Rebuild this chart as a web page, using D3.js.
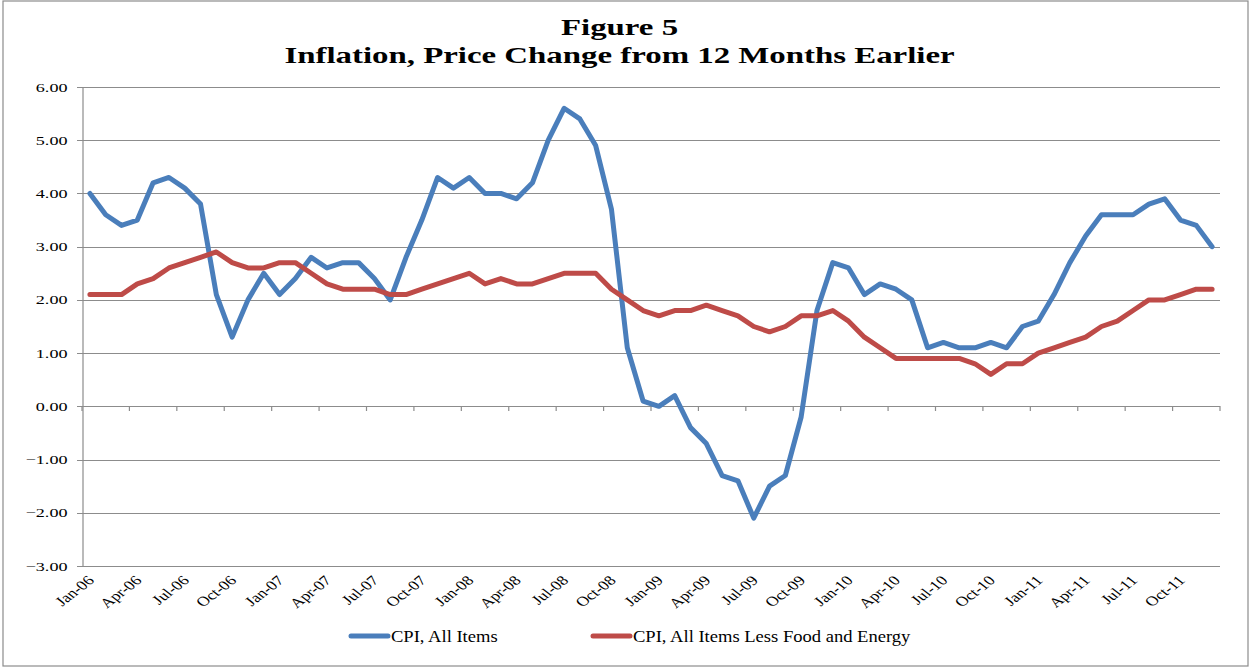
<!DOCTYPE html>
<html>
<head>
<meta charset="utf-8">
<script src="https://cdn.jsdelivr.net/npm/d3@7"></script>
<style>
  html, body { margin: 0; padding: 0; background: #fff; }
  svg { display: block; }
  text { font-family: "Liberation Serif", "Times New Roman", serif; fill: #000; }
</style>
</head>
<body>
<svg id="chart" width="1250" height="668"></svg>
<script>
const titleLines = ["Figure 5", "Inflation, Price Change from 12 Months Earlier"];
const months = ["Jan","Feb","Mar","Apr","May","Jun","Jul","Aug","Sep","Oct","Nov","Dec"];
const years = ["06","07","08","09","10","11"];
const categories = years.flatMap(y => months.map(m => m + "-" + y));
const yTicks = [6, 5, 4, 3, 2, 1, 0, -1, -2, -3];
const seriesNames = ["CPI, All Items", "CPI, All Items Less Food and Energy"];
const cpiAll = [
  4.0, 3.6, 3.4, 3.5, 4.2, 4.3, 4.1, 3.8, 2.1, 1.3, 2.0, 2.5,
  2.1, 2.4, 2.8, 2.6, 2.7, 2.7, 2.4, 2.0, 2.8, 3.5, 4.3, 4.1,
  4.3, 4.0, 4.0, 3.9, 4.2, 5.0, 5.6, 5.4, 4.9, 3.7, 1.1, 0.1,
  0.0, 0.2, -0.4, -0.7, -1.3, -1.4, -2.1, -1.5, -1.3, -0.2, 1.8, 2.7,
  2.6, 2.1, 2.3, 2.2, 2.0, 1.1, 1.2, 1.1, 1.1, 1.2, 1.1, 1.5,
  1.6, 2.1, 2.7, 3.2, 3.6, 3.6, 3.6, 3.8, 3.9, 3.5, 3.4, 3.0
];
const cpiCore = [
  2.1, 2.1, 2.1, 2.3, 2.4, 2.6, 2.7, 2.8, 2.9, 2.7, 2.6, 2.6,
  2.7, 2.7, 2.5, 2.3, 2.2, 2.2, 2.2, 2.1, 2.1, 2.2, 2.3, 2.4,
  2.5, 2.3, 2.4, 2.3, 2.3, 2.4, 2.5, 2.5, 2.5, 2.2, 2.0, 1.8,
  1.7, 1.8, 1.8, 1.9, 1.8, 1.7, 1.5, 1.4, 1.5, 1.7, 1.7, 1.8,
  1.6, 1.3, 1.1, 0.9, 0.9, 0.9, 0.9, 0.9, 0.8, 0.6, 0.8, 0.8,
  1.0, 1.1, 1.2, 1.3, 1.5, 1.6, 1.8, 2.0, 2.0, 2.1, 2.2, 2.2
];
const colors = ["#4a7ebb", "#be4b48"];

(function () {
const svg = d3.select("#chart");
const mLeft = 82, mRight = 1220, mTop = 87, mBottom = 566;
const gridColor = "#8c8c8c";

// outer border
svg.append("rect").attr("x", 3).attr("y", 1).attr("width", 1245).attr("height", 665)
  .attr("fill", "none").attr("stroke", gridColor).attr("stroke-width", 1.2);

// title (horizontally stretched like the reference)
const titleY = [35, 63];
titleLines.forEach((t, i) => {
  svg.append("text").attr("transform", `translate(619.5,${titleY[i]}) scale(1.37,1)`)
    .attr("text-anchor", "middle").attr("font-size", 24).attr("font-weight", "bold").text(t);
});

const x = d3.scaleBand().domain(categories).range([mLeft, mRight]).padding(0);
const y = d3.scaleLinear().domain([-3, 6]).range([mBottom, mTop]);

// gridlines
svg.append("g").selectAll("line").data(yTicks).join("line")
  .attr("x1", mLeft - 5).attr("x2", mRight)
  .attr("y1", d => Math.round(y(d)) + 0.5).attr("y2", d => Math.round(y(d)) + 0.5)
  .attr("stroke", gridColor).attr("stroke-width", 1.2);

// y axis
const yAxis = d3.axisLeft(y).tickValues(yTicks).tickFormat(d3.format(".2f")).tickSize(0).tickPadding(15);
const gy = svg.append("g").attr("transform", `translate(${mLeft + 0.5},0)`).call(yAxis);
gy.select(".domain").attr("stroke", gridColor).attr("stroke-width", 1.2);
gy.selectAll("text").attr("x", 0).attr("transform", "translate(-15,0) scale(1.45,1)")
  .attr("font-size", 12.5).attr("font-family", "Liberation Serif");

// x axis at zero, ticks every 3 categories at boundaries
const boundaries = d3.range(0, categories.length + 1, 3).map(i => mLeft + i * x.bandwidth());
const gx = svg.append("g");
gx.append("line").attr("x1", mLeft).attr("x2", mRight)
  .attr("y1", Math.round(y(0)) + 0.5).attr("y2", Math.round(y(0)) + 0.5)
  .attr("stroke", gridColor).attr("stroke-width", 1.2);
gx.selectAll("line.tick").data(boundaries).join("line").attr("class", "tick")
  .attr("x1", d => d).attr("x2", d => d)
  .attr("y1", Math.round(y(0))).attr("y2", Math.round(y(0)) + 5)
  .attr("stroke", gridColor).attr("stroke-width", 1.2);

// x labels, every third month
const labelCats = categories.filter((c, i) => i % 3 === 0);
svg.append("g").selectAll("text").data(labelCats).join("text")
  .attr("transform", d => `translate(${x(d) + x.bandwidth() / 2 + 1},${mBottom + 12}) scale(1.3,1) rotate(-45)`)
  .attr("text-anchor", "end").attr("dy", "0.35em")
  .attr("font-size", 13.5).text(d => d);

// lines
const line = d3.line().x((d, i) => x(categories[i]) + x.bandwidth() / 2).y(d => y(d));
[cpiAll, cpiCore].forEach((s, k) => {
  svg.append("path").datum(s).attr("d", line).attr("fill", "none")
    .attr("stroke", colors[k]).attr("stroke-width", 5)
    .attr("stroke-linejoin", "round").attr("stroke-linecap", "round");
});

// legend
const legendX = [351, 593];
seriesNames.forEach((n, k) => {
  const g = svg.append("g").attr("transform", `translate(${legendX[k]},636)`);
  g.append("line").attr("x1", 0).attr("x2", 37).attr("y1", 0).attr("y2", 0)
    .attr("stroke", colors[k]).attr("stroke-width", 5).attr("stroke-linecap", "round");
  g.append("text").attr("transform", "translate(40,0) scale(1.16,1)")
    .attr("dy", "0.35em").attr("font-size", 16).text(n);
});
})();
</script>
</body>
</html>
